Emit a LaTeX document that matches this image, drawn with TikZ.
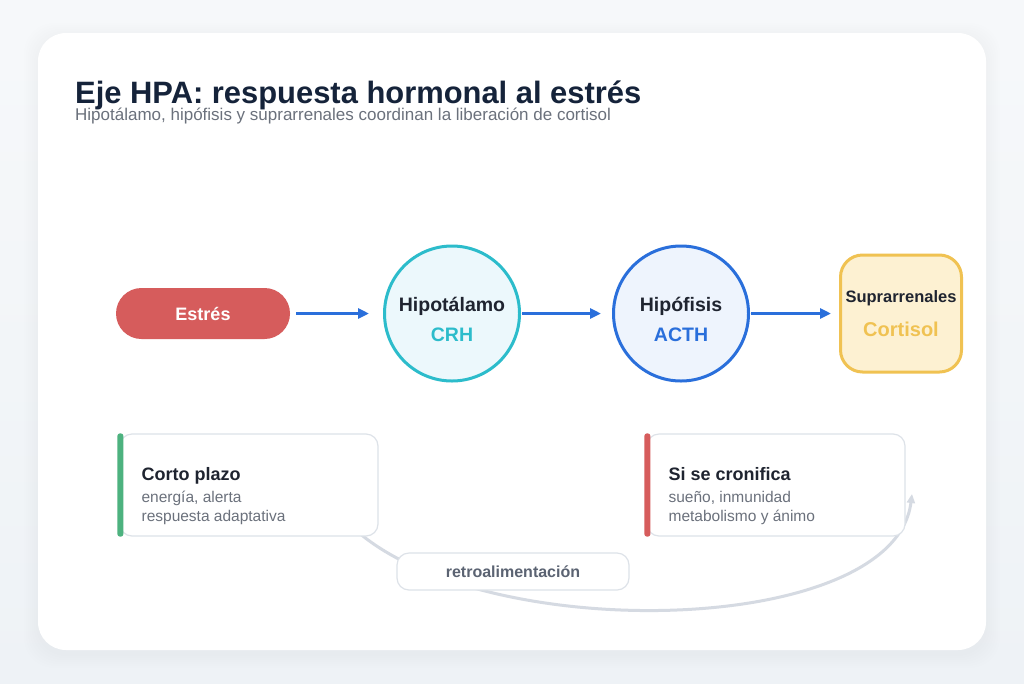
\documentclass[tikz,border=0pt]{standalone}
\usepackage{fontspec}
\setmainfont{Liberation Sans}
\usetikzlibrary{arrows.meta,positioning,calc}
\definecolor{HPNavy}{HTML}{15233A}
\definecolor{HPInk}{HTML}{1F2430}
\definecolor{HPGray}{HTML}{6B717C}
\definecolor{HPSlate}{HTML}{5B6372}
\definecolor{HPRed}{HTML}{D65C5C}
\definecolor{HPBlue}{HTML}{2A6FDB}
\definecolor{HPBlueBg}{HTML}{EEF4FD}
\definecolor{HPTeal}{HTML}{2CBCCB}
\definecolor{HPTealBg}{HTML}{ECF8FC}
\definecolor{HPGold}{HTML}{F0C252}
\definecolor{HPCream}{HTML}{FDF1D2}
\definecolor{HPGreen}{HTML}{4DB27F}
\definecolor{HPLine}{HTML}{DDE2E8}
\definecolor{HPCurve}{HTML}{D5DAE2}
\definecolor{HPBack}{HTML}{EEF2F6}
\newcommand{\hpsize}[1]{\fontsize{#1}{#1}\selectfont}

\begin{document}
\begin{tikzpicture}[x=1pt,y=-1pt,
  gland/.style={circle,line width=3pt,minimum size=135pt},
  tag/.style={anchor=base,inner sep=0pt,font=\bfseries\hpsize{19.5}},
  flow/.style={-{Triangle[length=11pt,width=10pt]},line width=3pt,HPBlue},
  fback/.style={-{Triangle[length=9pt,width=8pt]},line width=3pt,HPCurve},
  card/.style={draw=HPLine,line width=1.2pt,fill=white,rounded corners=12pt,minimum width=258pt,minimum height=102pt},
  cardhead/.style={anchor=base west,inner sep=0pt,text=HPInk,font=\bfseries\hpsize{18}},
  cardtext/.style={anchor=base west,inner sep=0pt,text=HPGray,font=\hpsize{15.5}}]
  \useasboundingbox (0,0) rectangle (1024,683);
  \shade[top color=HPBack!50!white,bottom color=HPBack] (0,0) rectangle (1024,683);
  % panel with a soft shadow
  \foreach \s in {2,4,...,14}
    \fill[black,opacity=0.005,rounded corners=30pt] (38-\s,37-\s) rectangle (986+\s,654+\s);
  \fill[white,rounded corners=28pt] (38,33) rectangle (986,650);

  \node[anchor=base west,inner sep=0pt,text=HPNavy,font=\bfseries\hpsize{30.9}] (title) at (75,103) {Eje HPA: respuesta hormonal al estrés};
  \node[anchor=base west,inner sep=0pt,text=HPGray,font=\hpsize{17}] (subtitle) at (75,120.5) {Hipotálamo, hipófisis y suprarrenales coordinan la liberación de cortisol};

  \node[fill=HPRed,rounded corners=25.5pt,minimum width=174pt,minimum height=51pt,text=white,font=\bfseries\hpsize{18},text height=13pt,text depth=0pt] (stress) at (203,313.5) {Estrés};
  \node[gland,draw=HPTeal,fill=HPTealBg] (hypo) at (452,313.5) {};
  \node[tag,text=HPInk] (hyponame) at ([yshift=2.5pt]hypo.center) {Hipotálamo};
  \node[tag,text=HPTeal] (crh) at ([yshift=-27.5pt]hypo.center) {CRH};
  \node[gland,draw=HPBlue,fill=HPBlueBg] (pit) at (681,313.5) {};
  \node[tag,text=HPInk] (pitname) at ([yshift=2.5pt]pit.center) {Hipófisis};
  \node[tag,text=HPBlue] (acth) at ([yshift=-27.5pt]pit.center) {ACTH};
  \node[draw=HPGold,fill=HPCream,line width=3pt,rounded corners=22pt,minimum width=121pt,minimum height=117pt] (adrenal) at (901,313.5) {};
  \node[tag,text=HPInk,font=\bfseries\hpsize{16.5}] (adrname) at ([yshift=11.5pt]adrenal.center) {Suprarrenales};
  \node[tag,text=HPGold,font=\bfseries\hpsize{20}] (cortisol) at ([yshift=-22.5pt]adrenal.center) {Cortisol};

  \draw[flow,shorten <=6pt,shorten >=14pt] (stress) -- (hypo);
  \draw[flow,shorten <=1pt,shorten >=11pt] (hypo) -- (pit);
  \draw[flow,shorten <=1pt,shorten >=8pt] (pit) -- (adrenal);

  % feedback loop behind the cards
  \coordinate (fbfrom) at (330,500);
  \coordinate (fbto) at (912,494);
  \draw[fback] (fbfrom) .. controls (420,647) and (893,647) .. (fbto);

  \node[card] (short) at (249,485) {};
  \fill[HPGreen,rounded corners=2.5pt] ($(short.north west)+(-2,0)$) rectangle ($(short.south west)+(4,0)$);
  \node[cardhead] (shorthead) at ([xshift=22pt,yshift=5pt]short.west) {Corto plazo};
  \node[cardtext] (shortone) at ([xshift=22pt,yshift=-17pt]short.west) {energía, alerta};
  \node[cardtext] (shorttwo) at ([xshift=22pt,yshift=-36pt]short.west) {respuesta adaptativa};

  \node[card] (chronic) at (776,485) {};
  \fill[HPRed,rounded corners=2.5pt] ($(chronic.north west)+(-2,0)$) rectangle ($(chronic.south west)+(4,0)$);
  \node[cardhead] (chronichead) at ([xshift=22pt,yshift=5pt]chronic.west) {Si se cronifica};
  \node[cardtext] (chronicone) at ([xshift=22pt,yshift=-17pt]chronic.west) {sueño, inmunidad};
  \node[cardtext] (chronictwo) at ([xshift=22pt,yshift=-36pt]chronic.west) {metabolismo y ánimo};

  \node[draw=HPLine,line width=1.2pt,fill=white,rounded corners=12pt,minimum width=232pt,minimum height=37pt,text=HPSlate,font=\bfseries\hpsize{16},text height=11.5pt,text depth=0pt] (feedback) at (513,571.5) {retroalimentación};
\end{tikzpicture}
\end{document}
